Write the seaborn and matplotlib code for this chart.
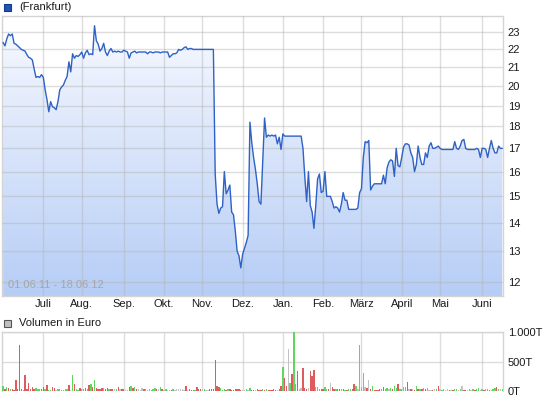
import matplotlib
matplotlib.use("Agg")
import matplotlib.pyplot as plt
from matplotlib.colors import LinearSegmentedColormap
from matplotlib.patches import Rectangle
import numpy as np
import pandas as pd
import seaborn as sns

# closing prices, one per trading day from 01.06.2011
prices = [
    22.4, 22.2, 22.6, 22.9, 22.8, 22.9, 22.35, 22.3, 22.2, 22.1,
    22.0, 21.95, 21.9, 21.7, 21.55, 21.5, 21.4, 20.9, 20.45, 20.5,
    20.45, 20.6, 20.45, 19.8, 19.3, 18.7, 19.2, 18.95, 18.9, 18.8,
    19.2, 19.8, 19.95, 20.05, 20.3, 20.5, 21.3, 20.75, 21.75, 21.5,
    21.65, 21.6, 21.7, 21.85, 21.5, 21.8, 21.95, 21.7, 21.75, 21.7,
    23.4, 22.5, 22.3, 21.9, 22.05, 22.35, 21.85, 21.65, 21.9, 22.05,
    21.85, 21.9, 21.85, 21.9, 21.85, 21.85, 21.95, 21.9, 21.85, 21.5,
    21.8, 21.85, 21.9, 21.8, 21.85, 21.85, 21.85, 21.85, 21.85, 21.75,
    21.85, 21.85, 21.8, 21.85, 21.85, 21.85, 21.8, 21.85, 21.85, 21.85,
    21.85, 21.55, 21.65, 21.75, 21.75, 21.8, 22.0, 21.95, 22.0, 22.1,
    22.15, 22.0, 22.05, 22.05, 22.0, 22.0, 22.0, 22.0, 22.0, 22.0,
    22.0, 22.0, 22.0, 22.0, 22.0, 22.0, 15.9, 14.7, 14.35, 14.55,
    14.6, 16.0, 15.1, 15.25, 15.45, 14.4, 14.3, 13.7, 13.0, 12.85,
    12.45, 12.9, 13.1, 13.3, 13.55, 18.2, 17.25, 16.6, 16.1, 15.5,
    14.8, 14.7, 16.5, 18.4, 17.5, 17.6, 17.55, 17.6, 17.55, 17.6,
    17.2, 17.5, 16.95, 17.65, 17.55, 17.55, 17.55, 17.55, 17.55, 17.55,
    17.55, 17.55, 17.55, 17.55, 17.0, 15.8, 14.8, 16.0, 14.65, 14.4,
    13.8, 14.65, 15.7, 15.9, 15.15, 15.2, 16.0, 15.0, 15.0, 15.0,
    14.8, 14.55, 14.6, 14.55, 14.4, 14.7, 15.15, 14.85, 14.85, 14.5,
    14.5, 14.5, 14.5, 14.5, 14.55, 15.15, 15.3, 16.6, 17.3, 17.25,
    17.35, 15.25, 15.4, 15.5, 15.5, 15.5, 15.5, 15.5, 15.85, 15.5,
    16.15, 16.4, 16.5, 16.45, 15.8, 17.0, 16.25, 16.2, 16.6, 17.05,
    17.2, 17.2, 17.15, 16.8, 16.6, 16.0, 16.3, 17.1, 16.6, 16.3,
    16.3, 16.8, 16.6, 17.1, 17.25, 17.0, 17.0, 17.05, 17.1, 17.0,
    16.95, 16.95, 16.95, 16.95, 16.95, 16.95, 16.95, 17.3, 17.0, 16.95,
    17.1, 17.35, 17.4, 17.0, 16.95, 16.95, 16.95, 16.95, 16.95, 17.0,
    16.95, 16.6, 17.0, 17.0, 16.95, 16.6, 17.0, 17.35, 17.0, 16.8,
    16.8, 17.1, 17.0, 17.0,
]

# traded volume in thousand euro
volume = [
    84, 39, 68, 56, 28, 39, 11, 191, 39, 775,
    39, 11, 275, 39, 140, 28, 73, 28, 50, 39,
    39, 28, 73, 39, 107, 11, 11, 73, 56, 11,
    28, 28, 11, 11, 28, 28, 107, 11, 275, 124,
    28, 11, 56, 39, 28, 56, 39, 107, 124, 73,
    191, 56, 28, 28, 56, 56, 39, 56, 39, 28,
    28, 28, 39, 73, 39, 28, 28, 11, 11, 73,
    90, 56, 73, 28, 39, 11, 56, 28, 28, 11,
    28, 11, 28, 56, 28, 39, 73, 28, 11, 28,
    11, 11, 11, 39, 11, 28, 28, 28, 28, 11,
    90, 11, 28, 11, 11, 11, 73, 28, 28, 28,
    28, 11, 11, 28, 39, 39, 528, 90, 73, 56,
    11, 39, 11, 28, 28, 11, 11, 28, 28, 28,
    11, 11, 11, 28, 11, 56, 11, 11,
    11, 28, 11, 11, 39, 11, 28, 11, 11, 11,
    39, 11, 11, 28, 84, 410, 213, 84, 713, 140,
    281, 1000, 124, 331, 39, 56, 382, 56, 28, 56,
    331, 247, 348, 73, 73, 39, 28, 39, 73, 28,
    39, 140, 73, 28, 39, 28, 28, 28, 28, 11,
    11, 28, 28, 28, 124, 90, 39, 787, 73, 309,
    73, 56, 180, 28, 84, 11, 11, 11, 28, 39,
    73, 28, 56, 28, 56, 28, 90, 56, 124, 28,
    39, 73, 73, 157, 39, 28, 39, 11, 90, 39,
    28, 28, 56, 28, 56, 11, 11, 11, 28, 28,
    90, 39, 11, 28, 11, 28, 11, 11, 11, 39,
    39, 11, 39, 90, 11, 11, 11, 28, 11, 28,
    11, 28, 56, 11, 28, 11, 39, 39, 11, 11,
    28, 56, 73, 39, 28, 39,
]

# day direction: g = up, r = down, n = unchanged
direction = (
    "grgrgrrrrr" "rgrrrrrrgg" "grrgrggrrn" "ggggggrngr" "ggrggrgrgr"
    "grrrrgrrgr" "rngrnrrnnr" "grgrnnnrgn" "ggggrngrng" "nnrgnnnnnn"
    "rnrrrgrrrn" "gnnrrrrrrg" "ggrgrrrrrr" "rnngngrr"
    "nrrrgrgrrr" "rrnrrgrrng" "rggrnnrrrn" "rrrgggrrgg" "rnrrgrrgrg"
    "rggrrgnggg" "nrnrgrrrrg" "rggngrggrg" "gggrnrnrgr" "grgrgnnrng"
    "rnggnnrnrg" "gngnrrngng" "rggngrggrn" "ggrgng"
)

month_labels = ["Juli", "Aug.", "Sep.", "Okt.", "Nov.", "Dez.",
                "Jan.", "Feb.", "März", "April", "Mai", "Juni"]
price_ticks = [12, 13, 14, 15, 16, 17, 18, 19, 20, 21, 22, 23]
volume_ticks = [0, 500, 1000]
volume_tick_labels = ["0T", "500T", "1.000T"]

sns.set_theme(style="white")
plt.rcParams["font.family"] = ["Liberation Sans", "DejaVu Sans"]

dates = pd.bdate_range("2011-06-01", periods=len(prices))
df = pd.DataFrame({
    "day": np.arange(len(prices)),
    "price": prices,
    "volume": volume,
    "dir": list(direction),
})
month_pos = np.flatnonzero(np.diff(dates.month) != 0) + 1

W, H = 545, 401
fs = 8
fig = plt.figure(figsize=(W / 100, H / 100), dpi=100)
ax = fig.add_axes([2 / W, 1 - 296 / H, 501 / W, 280 / H])
axv = fig.add_axes([2 / W, 1 - 391 / H, 501 / W, 59 / H])

grid_kw = dict(color="#b4b4b4", alpha=0.45, linewidth=1)
ymin, ymax = 11.57, 24.0
xlim = (-0.6, len(prices) - 0.6)

# price panel
ax.set_yscale("log")
poly = ax.fill_between(df["day"], df["price"], ymin, facecolor="none", edgecolor="none")
cmap = LinearSegmentedColormap.from_list("fill", ["#b6cdf6", "#f8faff"])
im = ax.imshow(np.linspace(0, 1, 256).reshape(-1, 1), cmap=cmap, origin="lower",
               extent=[0, 1, 0, 1], transform=ax.transAxes, aspect="auto", zorder=1)
im.set_clip_path(poly.get_paths()[0], transform=ax.transData)
sns.lineplot(data=df, x="day", y="price", ax=ax, color="#2e62c4", linewidth=1.0, zorder=4)
ax.set_xlim(*xlim)
ax.set_ylim(ymin, ymax)
ax.set_yticks(price_ticks)
ax.set_yticklabels([str(t) for t in price_ticks])
ax.minorticks_off()
ax.set_xticks(month_pos)
ax.set_xticklabels(month_labels)
ax.yaxis.tick_right()
ax.set(xlabel=None, ylabel=None)
ax.set_axisbelow(False)
ax.grid(True, **grid_kw)
ax.tick_params(axis="both", length=0, labelsize=fs, colors="#1a1a1a")
ax.tick_params(axis="y", pad=3.5)
ax.tick_params(axis="x", pad=2.5)
for s in ax.spines.values():
    s.set_color("#d4d4d4")
    s.set_linewidth(1)
ax.text(0.012, 0.022, "01.06.11 - 18.06.12", transform=ax.transAxes,
        fontsize=fs, color="#a6a6a6", va="bottom", ha="left", zorder=5)

# volume panel
palette = {"g": "#5fd65f", "r": "#e05c5c", "n": "#c3c3c3"}
axv.bar(df["day"], df["volume"], width=0.75, color=[palette[d] for d in df["dir"]],
        linewidth=0, antialiased=False, zorder=3)
axv.set_xlim(*xlim)
axv.set_ylim(0, 1000)
axv.set_yticks(volume_ticks)
axv.set_yticklabels(volume_tick_labels)
axv.set_xticks(month_pos)
axv.set_xticklabels([])
axv.yaxis.tick_right()
axv.set_axisbelow(True)
axv.grid(True, **grid_kw)
axv.tick_params(axis="both", length=0, labelsize=fs, colors="#1a1a1a")
axv.tick_params(axis="y", pad=3.5)
for name, s in axv.spines.items():
    s.set_color("#d4d4d4")
    s.set_linewidth(1)
axv.spines["bottom"].set_visible(False)

# legend boxes
fig.add_artist(Rectangle((4 / W, 1 - 11 / H), 7 / W, 7 / H, transform=fig.transFigure,
                         facecolor="#1f55b8", edgecolor="#143a80", linewidth=0.8))
fig.text(19 / W, 1 - 7 / H, "(Frankfurt)", fontsize=fs, color="#1a1a1a", va="center")
fig.add_artist(Rectangle((4 / W, 1 - 327 / H), 7 / W, 7 / H, transform=fig.transFigure,
                         facecolor="#c0c0c0", edgecolor="#555555", linewidth=0.8))
fig.text(19 / W, 1 - 323 / H, "Volumen in Euro", fontsize=fs, color="#1a1a1a", va="center")

fig.savefig("out.png", dpi=100)
